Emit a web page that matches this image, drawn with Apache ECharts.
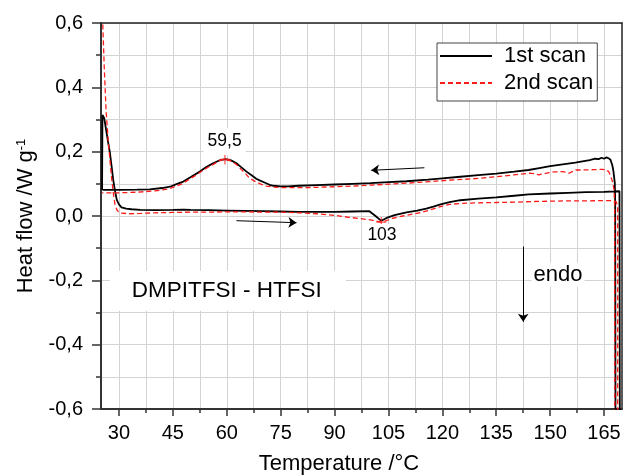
<!DOCTYPE html>
<html><head><meta charset="utf-8">
<script src="https://cdn.jsdelivr.net/npm/echarts@6/dist/echarts.min.js"></script>
<style>html,body{margin:0;padding:0;background:#fff}#c{width:624px;height:475px}</style>
</head><body><div id="c"></div>
<script>
const xMajorTicks = [30,45,60,75,90,105,120,135,150,165];
const xMinorTicks = [37.5,52.5,67.5,82.5,97.5,112.5,127.5,142.5,157.5];
const seriesNames = ['1st scan', '2nd scan'];

const scan1Heating = [[25.3,0.081],[25.4,0.314],[25.9,0.304],[26.5,0.262],[27.0,0.228],[27.5,0.195],[28.0,0.150],[28.4,0.112],[28.9,0.078],[29.4,0.050],[30.0,0.036],[30.7,0.027],[32.0,0.023],[33.5,0.021],[36,0.019],[40,0.018],[45,0.019],[48,0.020],[50,0.019],[55,0.018],[60,0.017],[65,0.016],[70,0.015],[75,0.014],[80,0.013],[85,0.013],[90,0.013],[95,0.014],[99.7,0.015],[101.4,0.000],[103,-0.015],[104.5,-0.006],[106.7,0.003],[110,0.011],[113,0.017],[115.5,0.023],[117.5,0.029],[119.5,0.036],[122,0.043],[125,0.049],[130,0.054],[135,0.058],[140,0.063],[144,0.067],[150,0.070],[155,0.072],[160,0.074],[165,0.075],[169.3,0.077],[169.4,-0.7]];

const scan1Cooling = [[168.2,-0.7],[168.1,0.05],[168.0,0.102],[167.6,0.140],[167.3,0.158],[166.8,0.175],[166.2,0.180],[165.6,0.182],[165,0.178],[164.3,0.181],[163.5,0.177],[162.5,0.178],[161,0.174],[159,0.170],[157,0.166],[153,0.160],[150,0.155],[147,0.149],[144,0.143],[140,0.138],[135,0.132],[130,0.127],[125,0.122],[120,0.117],[116,0.113],[110,0.108],[105,0.105],[100,0.102],[95,0.100],[90,0.098],[85,0.096],[80,0.094],[77,0.092],[75,0.092],[73,0.094],[71.9,0.097],[70.5,0.104],[69.3,0.110],[68.2,0.116],[67,0.126],[65.5,0.138],[64,0.152],[62.7,0.164],[61.2,0.173],[59.7,0.177],[58.2,0.174],[56.2,0.164],[54.3,0.152],[52.5,0.138],[50,0.121],[47.9,0.107],[46,0.099],[44.2,0.091],[42,0.087],[38.6,0.083],[35,0.082],[30,0.081],[26,0.081],[25.4,0.081]];

const scan2Heating = [[25.25,0.72],[25.5,0.594],[25.9,0.464],[26.4,0.33],[27.0,0.236],[27.5,0.172],[28.0,0.112],[28.5,0.065],[28.9,0.036],[29.5,0.017],[30.3,0.009],[33,0.007],[36,0.008],[40,0.010],[45,0.011],[50,0.012],[55,0.012],[60,0.013],[65,0.013],[70,0.012],[75,0.012],[80,0.010],[85,0.007],[90,0.002],[94,-0.004],[97,-0.008],[100,-0.012],[103,-0.019],[104.5,-0.014],[106.2,-0.007],[109,0.000],[111.8,0.006],[114,0.011],[116,0.017],[118,0.024],[120,0.031],[122,0.036],[125,0.039],[130,0.041],[135,0.042],[140,0.043],[145,0.045],[150,0.046],[155,0.047],[160,0.047],[166.4,0.048],[167.8,0.047],[168.4,0.044],[168.8,0.03],[168.8,-0.7]];

const scan2Cooling = [[168.0,-0.7],[167.95,0.03],[167.8,0.081],[167.4,0.105],[166.9,0.122],[166.3,0.138],[165.5,0.144],[164.4,0.145],[162,0.144],[159,0.143],[157.1,0.143],[156,0.137],[155.3,0.133],[154.3,0.136],[153.4,0.138],[151,0.137],[149,0.133],[147.5,0.130],[146.9,0.128],[145.5,0.132],[144.2,0.133],[140,0.128],[137,0.124],[133,0.120],[130.3,0.117],[126,0.114],[123,0.112],[116.4,0.107],[110,0.102],[105,0.099],[100,0.096],[95,0.093],[90,0.091],[85,0.089],[80,0.088],[75.6,0.088],[73,0.090],[71,0.093],[69.5,0.099],[68,0.107],[66.4,0.117],[65.2,0.132],[64,0.145],[62.7,0.160],[61.2,0.171],[59.5,0.176],[58,0.172],[56.5,0.162],[55,0.153],[53,0.139],[51,0.124],[49,0.110],[47.5,0.100],[45.5,0.091],[44,0.085],[42,0.081],[40,0.078],[35,0.074],[30,0.072],[25.3,0.072]];

const peakPoints = [[59.5,0.176],[103,-0.019]];
const peakLabels = ['59,5','103'];

const FONT = 'Liberation Sans, Arial, Helvetica, sans-serif';

const solidIcon = 'path://M0,0 h52 v2 h-52 z';
const dashedIcon = 'path://M0,0 h5 v2 h-5 z M8,0 h5 v2 h-5 z M16,0 h5 v2 h-5 z M24,0 h5 v2 h-5 z M32,0 h5 v2 h-5 z M40,0 h5 v2 h-5 z M48,0 h4 v2 h-4 z';

function gridStyle() { return {show:true, lineStyle:{color:'#d3d3d3', width:1, type:'solid'}}; }

const chart = echarts.init(document.getElementById('c'), null, {renderer:'canvas'});
chart.setOption({
  animation:false,
  backgroundColor:'#fff',
  textStyle:{fontFamily:FONT, color:'#000'},
  grid:{left:101, top:23, right:2, bottom:66, containLabel:false, outerBoundsMode:'none'},
  legend:{
    orient:'vertical', left:437, top:43,
    data:[{name:seriesNames[0], icon:solidIcon}, {name:seriesNames[1], icon:dashedIcon}],
    itemWidth:52, itemHeight:2, itemGap:5, symbolKeepAspect:false,
    padding:[2,4,7,3],
    borderColor:'#444', borderWidth:1, backgroundColor:'#fff',
    textStyle:{fontSize:22, color:'#000', fontFamily:FONT, padding:[0,0,0,7]}
  },
  xAxis:[{
    type:'value', min:25, max:170, position:'bottom',
    name:'Temperature /°C', nameLocation:'middle', nameGap:44, nameMoveOverlap:false,
    nameTextStyle:{fontSize:22, color:'#000', fontFamily:FONT, padding:[0,45,0,0]},
    axisLine:{show:true, onZero:false, lineStyle:{color:'#333', width:2}},
    axisTick:{show:true, customValues:xMajorTicks, length:7, lineStyle:{color:'#333', width:1.5}},
    axisLabel:{show:true, customValues:xMajorTicks, fontSize:20, color:'#000', margin:14, fontFamily:FONT},
    splitLine:gridStyle()
  },{
    type:'value', min:25, max:170, position:'bottom',
    axisLine:{show:false, onZero:false},
    axisTick:{show:true, customValues:xMinorTicks, length:4, lineStyle:{color:'#333', width:1.5}},
    axisLabel:{show:false, customValues:xMinorTicks},
    splitLine:gridStyle()
  },{
    type:'value', min:25, max:170, position:'top',
    axisLine:{show:true, onZero:false, lineStyle:{color:'#222', width:1.5}},
    axisTick:{show:false}, axisLabel:{show:false}, splitLine:{show:false}
  }],
  yAxis:[{
    type:'value', min:-0.6, max:0.6, interval:0.2, position:'left',
    name:'Heat flow /W g{sup|-1}', nameLocation:'middle', nameGap:64, nameMoveOverlap:false,
    nameTextStyle:{fontSize:22, color:'#000', fontFamily:FONT,
      rich:{sup:{fontSize:13, verticalAlign:'top', fontFamily:FONT, color:'#000'}}},
    axisLine:{show:true, onZero:false, lineStyle:{color:'#333', width:2}},
    axisTick:{show:true, length:9, lineStyle:{color:'#333', width:1.5}},
    minorTick:{show:true, splitNumber:2, length:5, lineStyle:{color:'#333', width:1.5}},
    axisLabel:{fontSize:20, color:'#000', margin:18, fontFamily:FONT,
      formatter:v => v.toFixed(1).replace('.', ',')},
    splitLine:gridStyle(),
    minorSplitLine:gridStyle()
  },{
    type:'value', min:-0.6, max:0.6, position:'right',
    axisLine:{show:true, onZero:false, lineStyle:{color:'#222', width:1.5}},
    axisTick:{show:false}, axisLabel:{show:false}, splitLine:{show:false}
  }],
  series:[{
    name:seriesNames[0], type:'line', xAxisIndex:0, yAxisIndex:0,
    data:scan1Heating.concat(scan1Cooling),
    symbol:'none', clip:true, z:2,
    lineStyle:{color:'#000', width:1.8},
    itemStyle:{color:'#000'}
  },{
    name:seriesNames[1], type:'line', xAxisIndex:0, yAxisIndex:0,
    data:scan2Heating.concat(scan2Cooling),
    symbol:'none', clip:true, z:3,
    lineStyle:{color:'#ff1a1a', width:1.3, type:[5,3]},
    itemStyle:{color:'#ff1a1a'}
  },{
    name:'peaks', type:'scatter', xAxisIndex:0, yAxisIndex:0, z:4,
    data:peakPoints,
    symbol:'path://M-0.6,-5 h1.2 v4.4 h4.4 v1.2 h-4.4 v4.4 h-1.2 v-4.4 h-4.4 v-1.2 h4.4 z',
    symbolSize:10,
    itemStyle:{color:'#ff1a1a'},
    markPoint:{
      symbol:'circle', symbolSize:0, silent:true, z:6,
      itemStyle:{color:'transparent'},
      label:{show:true, position:'inside', color:'#000', fontFamily:FONT, backgroundColor:'#fff'},
      data:[
        {coord:[59.4,0.2316], label:{formatter:peakLabels[0], fontSize:17.5, padding:[4,4,5,4]}},
        {coord:[103.2,-0.059], label:{formatter:peakLabels[1], fontSize:17.5, padding:[2,3,2,3]}},
        {coord:[60.3,-0.232], label:{formatter:'DMPITFSI - HTFSI', fontSize:22.5, padding:[8,24,9,22]}},
        {coord:[152.2,-0.183], label:{formatter:'endo', fontSize:22, padding:[1,2,1,2]}}
      ]
    },
    markLine:{
      silent:true, symbol:['none','arrow'], symbolSize:8, z:7,
      label:{show:false},
      lineStyle:{color:'#000', width:1, type:'solid'},
      data:[
        [{coord:[115,0.150]},{coord:[100.2,0.142]}],
        [{coord:[62.7,-0.0146]},{coord:[79.4,-0.0208]}],
        [{coord:[142.5,-0.095]},{coord:[142.5,-0.329]}]
      ]
    }
  }]
});
</script></body></html>
